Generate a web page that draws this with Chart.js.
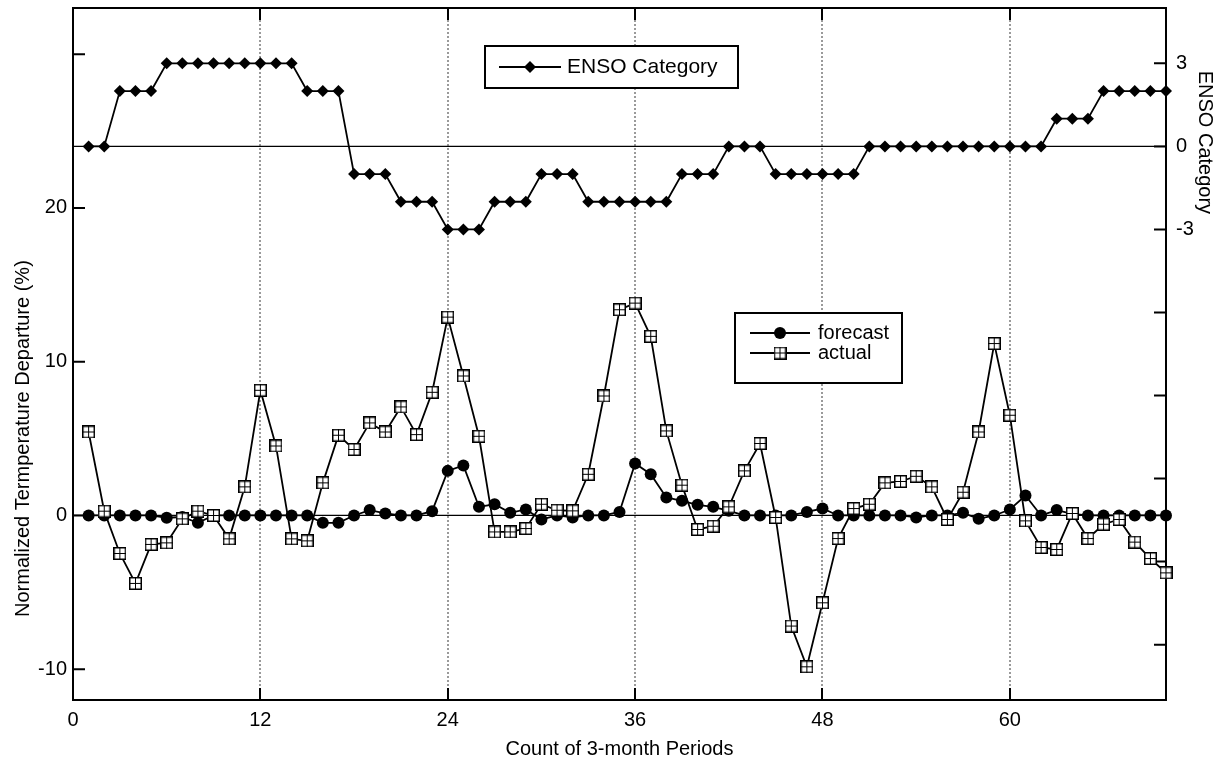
<!DOCTYPE html>
<html><head><meta charset="utf-8">
<script src="https://cdn.jsdelivr.net/npm/chart.js@4.4.0/dist/chart.umd.min.js"></script>
<style>html,body{margin:0;padding:0;background:#fff;}canvas{display:block;}</style>
</head><body>
<canvas id="c" width="1225" height="761"></canvas>
<script>
// ---- data ----
const periods = [1,2,3,4,5,6,7,8,9,10,11,12,13,14,15,16,17,18,19,20,21,22,23,24,25,26,27,28,29,30,31,32,33,34,35,36,37,38,39,40,41,42,43,44,45,46,47,48,49,50,51,52,53,54,55,56,57,58,59,60,61,62,63,64,65,66,67,68,69,70];
const ensoCategory = [0,0,2,2,2,3,3,3,3,3,3,3,3,3,2,2,2,-1,-1,-1,-2,-2,-2,-3,-3,-3,-2,-2,-2,-1,-1,-1,-2,-2,-2,-2,-2,-2,-1,-1,-1,0,0,0,-1,-1,-1,-1,-1,-1,0,0,0,0,0,0,0,0,0,0,0,0,1,1,1,2,2,2,2,2];
const forecast = [0,0,0,0,0,-0.15,-0.1,-0.48,0,0,0,0,0,0,0,-0.48,-0.48,0,0.35,0.13,0,0,0.28,2.9,3.25,0.56,0.73,0.17,0.39,-0.26,0,-0.13,0,0,0.23,3.38,2.68,1.17,0.95,0.69,0.56,0.3,0,0,0,0,0.23,0.45,0,0,0,0,0,-0.13,0,0,0.17,-0.22,0,0.39,1.3,0,0.35,0.1,0,0,0,0,0,0];
const actual = [5.43,0.28,-2.47,-4.42,-1.88,-1.78,-0.22,0.28,0,-1.52,1.86,8.14,4.52,-1.52,-1.65,2.12,5.22,4.29,6.02,5.43,7.06,5.26,8.01,12.9,9.07,5.15,-1.07,-1.07,-0.85,0.73,0.34,0.3,2.68,7.77,13.38,13.81,11.65,5.5,1.97,-0.91,-0.7,0.56,2.9,4.68,-0.13,-7.19,-9.84,-5.68,-1.5,0.45,0.73,2.12,2.21,2.55,1.86,-0.26,1.51,5.43,11.18,6.52,-0.35,-2.08,-2.21,0.13,-1.5,-0.57,-0.26,-1.73,-2.8,-3.73];
const xTicks = [0,12,24,36,48,60];
const xGrid = [12,24,36,48,60];
const yTicks = [-10,0,10,20,30];
const yLabels = [-10,0,10,20];
const y2Ticks = [-18,-15,-12,-9,-6,-3,0,3];
const y2Labels = [-3,0,3];

const FONT = '"Liberation Sans", Arial, Helvetica, sans-serif';

function makeBoxPlus(size){
  const c=document.createElement('canvas'); c.width=size; c.height=size;
  const g=c.getContext('2d');
  g.fillStyle='#fff'; g.fillRect(0,0,size,size);
  g.strokeStyle='#000'; g.lineWidth=1.5;
  g.strokeRect(0.75,0.75,size-1.5,size-1.5);
  g.lineWidth=1;
  const m=Math.floor(size/2)+0.5;
  g.beginPath(); g.moveTo(m,1); g.lineTo(m,size-1); g.moveTo(1,m); g.lineTo(size-1,m); g.stroke();
  return c;
}
const boxPlus = makeBoxPlus(13);

const toXY = arr => arr.map((v,i)=>({x:periods[i], y:v}));

const decor = {
  id:'decor',
  beforeDatasetsDraw(chart){
    const {ctx, chartArea:a, scales:{x,y,y2}} = chart;
    ctx.save();
    ctx.strokeStyle='#7a7a7a'; ctx.lineWidth=1.5; ctx.setLineDash([2,2]);
    xGrid.forEach(v=>{ const px=Math.round(x.getPixelForValue(v));
      ctx.beginPath(); ctx.moveTo(px,a.top); ctx.lineTo(px,a.bottom); ctx.stroke(); });
    ctx.setLineDash([]);
    ctx.strokeStyle='#000'; ctx.lineWidth=1.2;
    [y.getPixelForValue(0), y2.getPixelForValue(0)].forEach(py=>{
      ctx.beginPath(); ctx.moveTo(a.left,py); ctx.lineTo(a.right,py); ctx.stroke(); });
    ctx.lineWidth=2;
    ctx.strokeRect(a.left,a.top,a.right-a.left,a.bottom-a.top);
    const L=12;
    ctx.beginPath();
    xGrid.forEach(v=>{ const px=Math.round(x.getPixelForValue(v));
      ctx.moveTo(px,a.bottom); ctx.lineTo(px,a.bottom-L);
      ctx.moveTo(px,a.top); ctx.lineTo(px,a.top+L); });
    yTicks.forEach(v=>{ const py=y.getPixelForValue(v); ctx.moveTo(a.left,py); ctx.lineTo(a.left+L,py); });
    y2Ticks.forEach(v=>{ const py=y2.getPixelForValue(v); ctx.moveTo(a.right,py); ctx.lineTo(a.right-L,py); });
    ctx.stroke();
    ctx.restore();
  },
  afterDatasetsDraw(chart){
    const {ctx} = chart;
    ctx.save();
    ctx.fillStyle='#fff'; ctx.strokeStyle='#000'; ctx.lineWidth=2;
    // ENSO legend
    ctx.fillRect(485,46,253,42); ctx.strokeRect(485,46,253,42);
    ctx.lineWidth=1.8;
    ctx.beginPath(); ctx.moveTo(499,67); ctx.lineTo(561,67); ctx.stroke();
    ctx.fillStyle='#000';
    ctx.beginPath(); ctx.moveTo(530-6,67); ctx.lineTo(530,61); ctx.lineTo(536,67); ctx.lineTo(530,73); ctx.closePath(); ctx.fill();
    ctx.font='21px '+FONT; ctx.textBaseline='middle'; ctx.textAlign='left';
    ctx.fillText('ENSO Category',567,67);
    // forecast/actual legend
    ctx.fillStyle='#fff'; ctx.lineWidth=2;
    ctx.fillRect(735,313,167,70); ctx.strokeRect(735,313,167,70);
    ctx.lineWidth=1.8; ctx.fillStyle='#000';
    [333,353].forEach(py=>{ctx.beginPath(); ctx.moveTo(750,py); ctx.lineTo(810,py); ctx.stroke();});
    ctx.beginPath(); ctx.arc(780,333,6,0,Math.PI*2); ctx.fill();
    ctx.drawImage(boxPlus,780-6.5,353-6.5);
    ctx.font='20px '+FONT;
    ctx.fillText('forecast',818,333);
    ctx.fillText('actual',818,353);
    ctx.restore();
  },
  afterDraw(chart){
    const {ctx, scales:{y,y2}} = chart;
    ctx.save();
    ctx.fillStyle='#000'; ctx.font='20px '+FONT; ctx.textAlign='center'; ctx.textBaseline='middle';
    const cyL=(y.getPixelForValue(-10)+y.getPixelForValue(20))/2;
    ctx.translate(23,cyL); ctx.rotate(-Math.PI/2);
    ctx.fillText('Normalized Termperature Departure (%)',0,0);
    ctx.restore();
    ctx.save();
    ctx.fillStyle='#000'; ctx.font='20px '+FONT; ctx.textAlign='center'; ctx.textBaseline='middle';
    const cyR=(y2.getPixelForValue(-3)+y2.getPixelForValue(3))/2 - 4;
    ctx.translate(1205,cyR); ctx.rotate(Math.PI/2);
    ctx.fillText('ENSO Category',0,0);
    ctx.restore();
  }
};

const tickFont = {family:FONT, size:20};
const noPad = s => { s.paddingTop=0; s.paddingBottom=0; s.paddingLeft=0; s.paddingRight=0; };

new Chart(document.getElementById('c'), {
  type:'line',
  data:{datasets:[
    {label:'actual', data:toXY(actual), yAxisID:'y', borderColor:'#000', borderWidth:1.8,
     pointStyle:boxPlus, pointRadius:6, order:0, clip:false},
    {label:'forecast', data:toXY(forecast), yAxisID:'y', borderColor:'#000', borderWidth:1.8,
     pointStyle:'circle', pointRadius:6, pointBackgroundColor:'#000', pointBorderColor:'#000', pointBorderWidth:0, order:1, clip:false},
    {label:'ENSO Category', data:toXY(ensoCategory), yAxisID:'y2', borderColor:'#000', borderWidth:1.8,
     pointStyle:'rectRot', pointRadius:6, pointBackgroundColor:'#000', pointBorderColor:'#000', pointBorderWidth:0, order:2, clip:false}
  ]},
  options:{
    responsive:false, animation:false, devicePixelRatio:1,
    layout:{padding:{top:8,left:0,right:0,bottom:0}},
    plugins:{legend:{display:false}, tooltip:{enabled:false}},
    elements:{line:{tension:0}},
    scales:{
      x:{type:'linear', position:'bottom', min:0, max:70,
        grid:{display:false, drawTicks:false}, border:{display:false},
        afterBuildTicks:s=>{s.ticks=xTicks.map(v=>({value:v}));},
        ticks:{font:tickFont, color:'#000', padding:8, maxRotation:0, autoSkip:false},
        title:{display:true, text:'Count of 3-month Periods', font:tickFont, color:'#000', padding:{top:0,bottom:0}},
        afterFit:s=>{s.height=61; noPad(s);}},
      y:{type:'linear', position:'left', min:-12, max:33,
        grid:{display:false, drawTicks:false}, border:{display:false},
        afterBuildTicks:s=>{s.ticks=yTicks.map(v=>({value:v}));},
        ticks:{font:tickFont, color:'#000', padding:6, autoSkip:false, callback:v=>yLabels.includes(v)?String(v):''},
        afterFit:s=>{s.width=73; noPad(s);}},
      y2:{type:'linear', position:'right', min:-20, max:5,
        grid:{display:false, drawTicks:false}, border:{display:false},
        afterBuildTicks:s=>{s.ticks=y2Ticks.map(v=>({value:v}));},
        ticks:{font:tickFont, color:'#000', padding:10, autoSkip:false, callback:v=>y2Labels.includes(v)?String(v):''},
        afterFit:s=>{s.width=59; noPad(s);}}
    }
  },
  plugins:[decor]
});
</script>
</body></html>
